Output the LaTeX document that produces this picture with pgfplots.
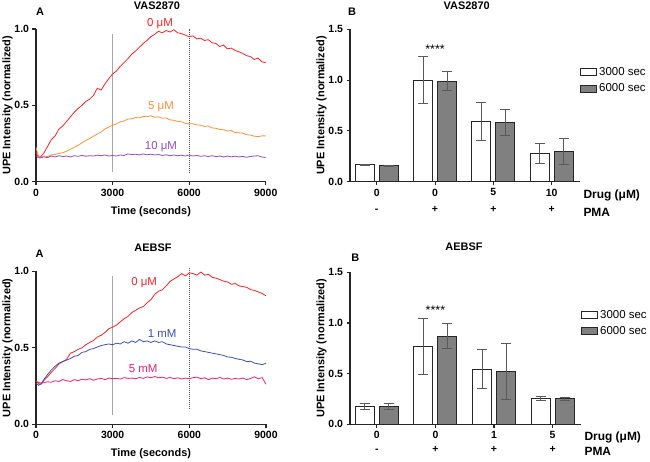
\documentclass[border=0pt]{standalone}
\usepackage{fontspec}
\setmainfont{Liberation Sans}
\usepackage{pgfplots}
\usepackage{pgfplotstable}
\pgfplotsset{compat=1.18}
\usetikzlibrary{calc}

\definecolor{cRed}{RGB}{238,36,40}
\definecolor{cOrange}{RGB}{248,145,60}
\definecolor{cPurple}{RGB}{142,78,184}
\definecolor{cBlue}{RGB}{60,80,170}
\definecolor{cPink}{RGB}{234,30,120}
\definecolor{barGray}{RGB}{128,128,128}

% time courses, VAS2870 (0, 5, 10 uM)
\pgfplotstableread{
t r o p
0 0.195 0.225 0.170
75 0.165 0.175 0.158
150 0.160 0.160 0.155
300 0.185 0.168 0.162
450 0.230 0.165 0.158
600 0.275 0.175 0.168
750 0.300 0.178 0.162
900 0.345 0.185 0.170
1050 0.365 0.190 0.165
1200 0.395 0.200 0.168
1350 0.425 0.212 0.162
1500 0.455 0.225 0.170
1650 0.480 0.238 0.166
1800 0.500 0.255 0.172
1950 0.525 0.270 0.167
2100 0.540 0.282 0.170
2250 0.565 0.298 0.168
2400 0.612 0.312 0.174
2550 0.600 0.325 0.170
2700 0.640 0.345 0.175
2850 0.675 0.358 0.168
3000 0.705 0.370 0.172
3150 0.725 0.378 0.168
3300 0.755 0.392 0.175
3450 0.780 0.398 0.172
3600 0.805 0.410 0.182
3750 0.835 0.412 0.178
3900 0.855 0.420 0.180
4050 0.880 0.418 0.175
4200 0.905 0.428 0.182
4350 0.925 0.425 0.176
4500 0.950 0.432 0.180
4650 0.965 0.422 0.175
4800 0.985 0.425 0.178
4950 0.975 0.415 0.172
5100 0.990 0.418 0.176
5250 0.980 0.405 0.170
5400 0.995 0.402 0.175
5550 0.975 0.395 0.170
5700 0.970 0.392 0.174
5850 0.960 0.382 0.168
6000 0.950 0.378 0.175
6150 0.955 0.380 0.168
6300 0.935 0.372 0.172
6450 0.940 0.370 0.166
6600 0.925 0.362 0.170
6750 0.930 0.365 0.165
6900 0.910 0.352 0.170
7050 0.905 0.350 0.164
7200 0.885 0.342 0.168
7350 0.895 0.340 0.162
7500 0.870 0.332 0.168
7650 0.875 0.335 0.163
7800 0.860 0.322 0.167
7950 0.850 0.320 0.162
8100 0.840 0.318 0.166
8250 0.825 0.308 0.160
8400 0.820 0.305 0.165
8550 0.800 0.298 0.168
8700 0.810 0.295 0.170
8850 0.785 0.300 0.162
9000 0.780 0.300 0.158
}\vastime

% time courses, AEBSF (0 uM, 1 mM, 5 mM)
\pgfplotstableread{
t r b p
0 0.285 0.270 0.280
100 0.265 0.255 0.275
200 0.262 0.265 0.268
300 0.285 0.290 0.272
450 0.310 0.325 0.278
600 0.340 0.355 0.275
750 0.365 0.380 0.285
900 0.395 0.400 0.280
1050 0.410 0.410 0.292
1200 0.425 0.420 0.285
1350 0.465 0.430 0.280
1500 0.475 0.445 0.292
1650 0.490 0.450 0.285
1800 0.500 0.470 0.295
1950 0.520 0.475 0.290
2100 0.535 0.490 0.298
2250 0.548 0.495 0.288
2400 0.570 0.505 0.296
2550 0.582 0.515 0.300
2700 0.600 0.520 0.292
2850 0.625 0.525 0.302
3000 0.635 0.520 0.298
3150 0.648 0.530 0.300
3300 0.670 0.525 0.296
3450 0.690 0.540 0.305
3600 0.705 0.530 0.300
3750 0.730 0.545 0.302
3900 0.745 0.535 0.298
4050 0.760 0.555 0.306
4200 0.770 0.540 0.300
4350 0.795 0.545 0.310
4500 0.815 0.535 0.305
4650 0.850 0.545 0.312
4800 0.870 0.535 0.304
4950 0.880 0.540 0.308
5100 0.905 0.525 0.300
5250 0.935 0.520 0.306
5400 0.950 0.515 0.298
5550 0.965 0.510 0.304
5700 0.985 0.505 0.296
5850 0.970 0.505 0.302
6000 0.990 0.495 0.298
6150 0.985 0.490 0.305
6300 0.975 0.490 0.308
6450 0.995 0.480 0.298
6600 0.975 0.475 0.304
6750 0.980 0.470 0.292
6900 0.960 0.465 0.302
7050 0.955 0.460 0.298
7200 0.945 0.455 0.306
7350 0.935 0.450 0.296
7500 0.930 0.440 0.302
7650 0.915 0.438 0.294
7800 0.920 0.430 0.300
7950 0.905 0.425 0.296
8100 0.900 0.420 0.302
8250 0.895 0.410 0.292
8400 0.880 0.412 0.300
8550 0.875 0.400 0.310
8700 0.865 0.395 0.298
8850 0.855 0.390 0.305
9000 0.840 0.400 0.262
}\aebtime

% bar means and errors: a = 3000 sec, b = 6000 sec
\pgfplotstableread{
x a ae b be
0 0.165 0.005 0.155 0.005
1 1.000 0.230 0.990 0.095
2 0.595 0.185 0.580 0.130
3 0.280 0.100 0.300 0.130
}\vasbars

\pgfplotstableread{
x a ae b be
0 0.180 0.030 0.180 0.030
1 0.770 0.275 0.870 0.120
2 0.545 0.190 0.520 0.275
3 0.257 0.020 0.250 0.018
}\aebbars

\pgfplotsset{
  panel/.style={
    scale only axis,
    axis lines=left,
    axis line style={-, line width=1.1bp, black!85},
    tick align=outside,
    major tick length=3.5bp,
    tick style={line width=1.1bp, black!85},
    ticklabel style={font=\bfseries\fontsize{10.5}{12}\selectfont},
    label style={font=\bfseries\fontsize{11}{13}\selectfont},
    /pgf/number format/assume math mode=true,
    yticklabel style={/pgf/number format/.cd, fixed, fixed zerofill, precision=1},
    ylabel={UPE Intensity (normalized)},
    ylabel style={at={($(axis description cs:0,0.5)+(-28.5bp,0)$)}, anchor=center},
    clip=false,
    ymin=0,
  },
  timeplot/.style={
    panel,
    width=229.7bp, height=152.7bp,
    xmin=0, xmax=9000, ymax=1,
    xtick={0,3000,6000,9000},
    ytick={0,0.5,1},
    xticklabel style={/pgf/number format/1000 sep={}},
    xlabel={Time (seconds)},
    xlabel style={at={($(axis description cs:0.5,0)+(0,-29.5bp)$)}, anchor=center},
  },
  barplot/.style={
    panel,
    width=230bp, height=152.4bp,
    ybar=5bp, bar width=19bp,
    xmin=-0.458, xmax=3.485, ymax=1.5,
    xtick={0,1,2,3},
    ytick={0,0.5,1,1.5},
    xticklabel style={align=center, font=\bfseries\fontsize{10.5}{17}\selectfont},
    legend style={draw=none, fill=none, at={(1,0.765)}, anchor=north west,
      font=\fontsize{11.5}{13}\selectfont, row sep=3bp, inner sep=0pt},
    legend cell align=left,
  },
  barstyle/.style={
    error bars/y dir=both,
    error bars/y explicit,
    error bars/error bar style={line width=1bp, black!65},
    error bars/error mark options={rotate=90, mark size=5bp, line width=1bp, black!65},
    draw=black!85, line width=1bp,
    legend image code/.code={\draw[##1, line width=1bp] (0bp,-3.5bp) rectangle (16bp,3.5bp);},
  },
}

\begin{document}
\begin{tikzpicture}
\path[use as bounding box] (0bp,0bp) rectangle (650bp,462bp);

% top left
\begin{axis}[timeplot, at={(36bp,280.3bp)}, anchor=south west]
\addplot[gray!70, line width=1bp] coordinates {(3000,0.065) (3000,0.97)};
\addplot[black!70, line width=1bp, dash pattern=on 1bp off 1bp] coordinates {(6000,0.055) (6000,1.0)};
\addplot[cRed, line width=0.8bp] table[x=t, y=r] {\vastime};
\addplot[cOrange, line width=0.8bp] table[x=t, y=o] {\vastime};
\addplot[cPurple, line width=0.8bp] table[x=t, y=p] {\vastime};
\node[cRed, font=\fontsize{11.5}{13}\selectfont] at (axis cs:4858,1.033) {0 μM};
\node[cOrange, font=\fontsize{11.5}{13}\selectfont] at (axis cs:4898,0.489) {5 μM};
\node[cPurple, font=\fontsize{11.5}{13}\selectfont] at (axis cs:4898,0.227) {10 μM};
\end{axis}

% top right
\begin{axis}[barplot, at={(350bp,280.3bp)}, anchor=south west,
  xticklabels={{0\\-},{0\\+},{5\\+},{10\\+}}]
\addplot[fill=white, barstyle] table[x=x, y=a, y error=ae] {\vasbars};
\addplot[fill=barGray, barstyle] table[x=x, y=b, y error=be] {\vasbars};
\legend{3000 sec, 6000 sec}
\node[font=\fontsize{12.5}{13}\selectfont] at (axis cs:1,1.30) {****};
\node[anchor=west, font=\bfseries\fontsize{12}{14}\selectfont, yshift=-13.5bp] at (rel axis cs:1,0) {Drug (μM)};
\node[anchor=west, font=\bfseries\fontsize{12}{14}\selectfont, yshift=-30.8bp] at (rel axis cs:1,0) {PMA};
\end{axis}

% bottom left
\begin{axis}[timeplot, at={(36bp,37.7bp)}, anchor=south west, width=230bp, height=153bp]
\addplot[gray!70, line width=1bp] coordinates {(3000,0.06) (3000,0.97)};
\addplot[black!70, line width=1bp, dash pattern=on 1bp off 1bp] coordinates {(6000,0.10) (6000,1.02)};
\addplot[cRed, line width=0.8bp] table[x=t, y=r] {\aebtime};
\addplot[cBlue, line width=0.8bp] table[x=t, y=b] {\aebtime};
\addplot[cPink, line width=0.8bp] table[x=t, y=p] {\aebtime};
\node[cRed, font=\fontsize{11.5}{13}\selectfont] at (axis cs:4232,0.924) {0 μM};
\node[cBlue, font=\fontsize{11.5}{13}\selectfont] at (axis cs:4937,0.59) {1 mM};
\node[cPink, font=\fontsize{11.5}{13}\selectfont] at (axis cs:4193,0.361) {5 mM};
\end{axis}

% bottom right
\begin{axis}[barplot, at={(350bp,37.7bp)}, anchor=south west, width=231bp, height=152bp,
  xticklabels={{0\\-},{0\\+},{1\\+},{5\\+}},
  xticklabel style={font=\bfseries\fontsize{10.5}{14}\selectfont}]
\addplot[fill=white, barstyle] table[x=x, y=a, y error=ae] {\aebbars};
\addplot[fill=barGray, barstyle] table[x=x, y=b, y error=be] {\aebbars};
\legend{3000 sec, 6000 sec}
\node[font=\fontsize{12.5}{13}\selectfont] at (axis cs:1,1.125) {****};
\node[anchor=west, font=\bfseries\fontsize{12}{14}\selectfont, yshift=-13.5bp] at (rel axis cs:1,0) {Drug (μM)};
\node[anchor=west, font=\bfseries\fontsize{12}{14}\selectfont, yshift=-27bp] at (rel axis cs:1,0) {PMA};
\end{axis}

% titles and panel letters
\node[font=\bfseries\fontsize{11}{13}\selectfont] at (157bp,456.5bp) {VAS2870};
\node[font=\bfseries\fontsize{11}{13}\selectfont] at (466.7bp,456.5bp) {VAS2870};
\node[font=\bfseries\fontsize{11}{13}\selectfont] at (153bp,214.3bp) {AEBSF};
\node[font=\bfseries\fontsize{11}{13}\selectfont] at (464bp,215bp) {AEBSF};
\node[font=\bfseries\fontsize{11}{13}\selectfont] at (40bp,450.5bp) {A};
\node[font=\bfseries\fontsize{11}{13}\selectfont] at (352bp,450bp) {B};
\node[font=\bfseries\fontsize{11}{13}\selectfont] at (39.6bp,208bp) {A};
\node[font=\bfseries\fontsize{11}{13}\selectfont] at (355.3bp,204.3bp) {B};
\end{tikzpicture}
\end{document}
